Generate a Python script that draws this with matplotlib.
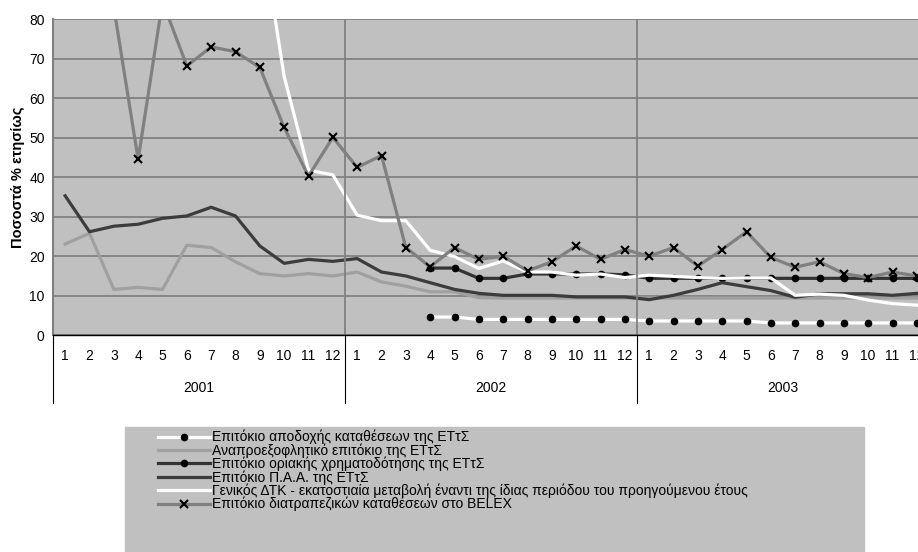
import numpy as np
import matplotlib
matplotlib.use("Agg")
import matplotlib.pyplot as plt
from matplotlib.patches import Rectangle
from matplotlib.lines import Line2D
import matplotlib.transforms as mtrans

nan = np.nan

months = [str(m) for m in range(1, 13)] * 3
years = ["2001", "2002", "2003"]

# Επιτόκιο αποδοχής καταθέσεων της ΕΤτΣ
deposit = [nan] * 15 + [4.6, 4.6, 4.0, 4.0, 4.0, 4.0, 4.0, 4.0, 4.0,
                        3.6, 3.6, 3.6, 3.6, 3.6, 3.1, 3.1, 3.1, 3.1, 3.1, 3.1, 3.1]
# Αναπροεξοφλητικό επιτόκιο της ΕΤτΣ
discount = [23.1, 25.8, 11.6, 12.1, 11.6, 22.8, 22.2, 18.6, 15.6, 15.0, 15.6, 15.0,
            16.0, 13.5, 12.4, 11.0, 11.0, 9.5, 9.4, 9.4, 9.4, 9.4, 9.4, 9.4,
            9.4, 9.4, 9.4, 9.4, 9.4, 9.4, 9.4, 9.4, 9.4, 9.4, 9.4, 9.4]
# Επιτόκιο οριακής χρηματοδότησης της ΕΤτΣ
lending = [nan] * 15 + [17.0, 17.0, 14.4, 14.4, 15.5, 15.5, 15.5, 15.5, 15.3,
                        14.4, 14.4, 14.4, 14.4, 14.4, 14.4, 14.4, 14.4, 14.4, 14.4, 14.4, 14.4]
# Επιτόκιο Π.Α.Α. της ΕΤτΣ
paa = [35.3, 26.2, 27.6, 28.1, 29.6, 30.2, 32.4, 30.2, 22.6, 18.2, 19.2, 18.7,
       19.4, 16.0, 15.0, 13.3, 11.6, 10.6, 10.1, 10.1, 10.1, 9.7, 9.7, 9.7,
       9.0, 10.1, 11.6, 13.3, 12.3, 11.3, 9.6, 10.5, 10.5, 10.5, 10.1, 10.6]
# Γενικός ΔΤΚ
cpi = [nan] * 8 + [105.0, 65.5, 41.8, 40.6,
                   30.4, 29.0, 29.0, 21.5, 19.9, 16.9, 18.8, 16.0, 16.0, 15.2, 15.5, 14.6,
                   15.2, 14.9, 14.6, 14.4, 14.5, 14.5, 10.1, 10.4, 10.1, 8.9, 8.0, 7.6]
# Επιτόκιο διατραπεζικών καταθέσεων στο BELEX
belex = [nan, nan, 83.0, 44.5, 84.5, 68.2, 73.0, 71.8, 67.8, 52.6, 40.3, 50.1,
         42.5, 45.5, 22.2, 17.3, 22.2, 19.2, 20.0, 16.3, 18.6, 22.6, 19.2, 21.7,
         20.0, 22.2, 17.5, 21.7, 26.2, 19.7, 17.2, 18.6, 15.6, 14.6, 16.0, 15.0]

labels = [
    "Επιτόκιο αποδοχής καταθέσεων της ΕΤτΣ",
    "Αναπροεξοφλητικό επιτόκιο της ΕΤτΣ",
    "Επιτόκιο οριακής χρηματοδότησης της ΕΤτΣ",
    "Επιτόκιο Π.Α.Α. της ΕΤτΣ",
    "Γενικός ΔΤΚ - εκατοστιαία μεταβολή έναντι της ίδιας περιόδου του προηγούμενου έτους",
    "Επιτόκιο διατραπεζικών καταθέσεων στο BELEX",
]

plt.rcParams["font.family"] = ["Liberation Sans", "DejaVu Sans"]

W, H = 918, 552
fig = plt.figure(figsize=(W / 100, H / 100), dpi=100)
ax = fig.add_axes([53 / W, (H - 335.2) / H, (929 - 53) / W, (335.2 - 19.3) / H])
ax.set_facecolor("#c0c0c0")

x = np.arange(36)
lw = 2.3
ax.plot(x, deposit, color="white", lw=lw, marker="o", ms=4.5, mfc="black", mec="black")
ax.plot(x, discount, color="#a0a0a0", lw=lw)
ax.plot(x, lending, color="#333333", lw=lw, marker="o", ms=4.5, mfc="black", mec="black")
ax.plot(x, paa, color="#3c3c3c", lw=lw)
ax.plot(x, cpi, color="white", lw=lw)
ax.plot(x, belex, color="#808080", lw=lw, marker="x", ms=6, mec="black", mew=1.5)

ax.set_xlim(-0.5, 35.5)
ax.set_ylim(0, 80)
ax.set_yticks(range(0, 81, 10))
ax.yaxis.grid(True, color="#808080", lw=1.3)
for b in [11.5, 23.5]:
    ax.axvline(b, color="#808080", lw=1.3)
ax.set_axisbelow(True)

ax.set_xticks(x)
ax.set_xticklabels(months)
ax.tick_params(axis="x", length=0, pad=10, labelsize=10)
ax.tick_params(axis="y", length=0, pad=6, labelsize=10)
for s in ["top", "right"]:
    ax.spines[s].set_visible(False)
ax.spines["left"].set_color("#808080")
ax.spines["left"].set_linewidth(1.5)
ax.spines["bottom"].set_color("black")
ax.spines["bottom"].set_linewidth(1.0)

ax.set_ylabel("Ποσοστά % ετησίως", fontsize=10.5, fontweight="bold", labelpad=3)

# year labels and separators under the axis
trans = mtrans.blended_transform_factory(ax.transData, ax.transAxes)
sep_len = (403 - 335.2) / (335.2 - 19.3)
for b in [-0.5, 11.5, 23.5, 35.5]:
    ax.add_line(Line2D([b, b], [0, -sep_len], transform=trans, color="black",
                       lw=0.8, clip_on=False))
for i, yr in enumerate(years):
    ax.text(i * 12 + 5.5, -(388 - 335.2) / (335.2 - 19.3), yr, transform=trans,
            ha="center", va="center", fontsize=10)

# legend box
fig.patches.append(Rectangle((125 / W, 0), (864 - 125) / W, (H - 427) / H,
                             transform=fig.transFigure, color="#c0c0c0", zorder=0))
handles = [
    Line2D([], [], color="white", lw=lw, marker="o", ms=4.5, mfc="black", mec="black"),
    Line2D([], [], color="#a0a0a0", lw=lw),
    Line2D([], [], color="#333333", lw=lw, marker="o", ms=4.5, mfc="black", mec="black"),
    Line2D([], [], color="#3c3c3c", lw=lw),
    Line2D([], [], color="white", lw=lw),
    Line2D([], [], color="#808080", lw=lw, marker="x", ms=6, mec="black", mew=1.5),
]
fig.legend(handles, labels, loc="upper left", bbox_to_anchor=(158 / W, (H - 430) / H),
           frameon=False, fontsize=10, handlelength=3.75, handletextpad=0.15,
           labelspacing=-0.08, borderpad=0, borderaxespad=0, numpoints=1)

fig.savefig("out.png", dpi=100)
